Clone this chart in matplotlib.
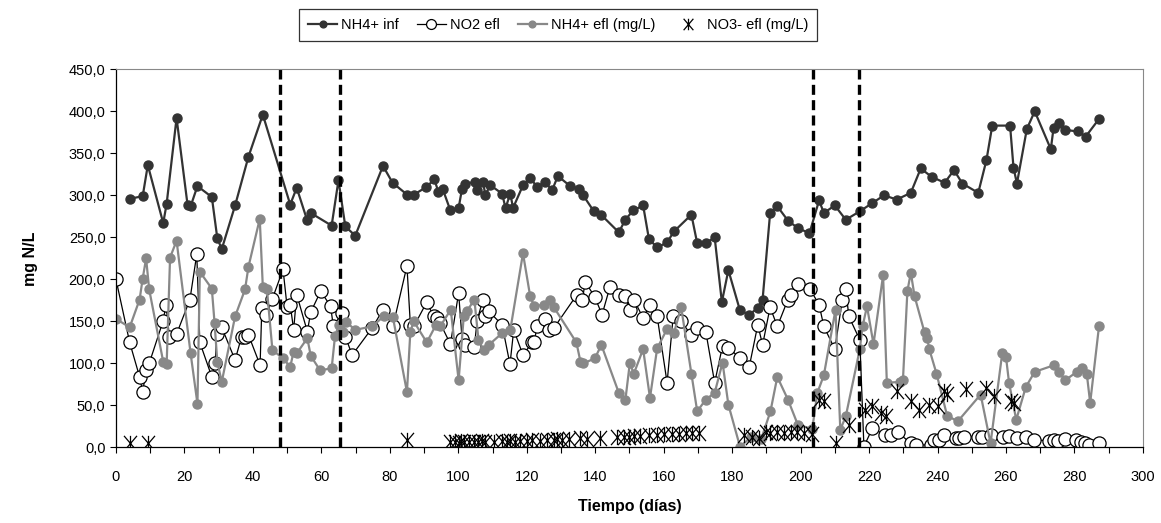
import matplotlib
matplotlib.use('Agg')
import matplotlib.pyplot as plt
from matplotlib.path import Path

plt.rcParams['font.family'] = ['Liberation Sans', 'DejaVu Sans']

# NH4+ afluente
nh4_inf_dia = [4.1, 7.8, 9.3, 13.8, 14.8, 17.7, 20.9, 21.8, 23.8, 28, 29.6, 30.9, 34.8, 38.7, 42.9,
               50.9, 52.8, 55.8, 56.9, 63, 65, 67, 69.9, 78, 80.8, 85, 87.1, 90.7, 93, 94.2, 95.4,
               97.7, 100.1, 101.1, 102.1, 105, 105.5, 107.2, 107.9, 109.4, 112.8, 113.8, 115.2, 116,
               118.9, 121, 123, 125.4, 127.4, 129.1, 132.7, 135.2, 136.5, 139.6, 141.7, 146.9, 148.8,
               151.1, 154, 155.7, 158.1, 161, 163, 168.1, 169.8, 172.3, 174.9, 177, 178.9, 182.3, 185,
               187.5, 188.9, 191.1, 193.2, 196.3, 199.2, 202.6, 205.4, 206.8, 210, 213.2, 217.3, 221,
               224.4, 228.1, 232.2, 235.1, 238.3, 242.1, 244.8, 247.3, 251.9, 254.3, 256, 261.2, 262.2,
               263.2, 266.1, 268.4, 273.1, 273.9, 275.4, 277.3, 280.9, 283.3, 287.2]
nh4_inf = [296, 299, 336, 267, 290, 392, 289, 287, 311, 298, 249, 236, 288, 346, 396,
           289, 309, 271, 279, 264, 318, 263, 252, 335, 315, 301, 301, 310, 319, 304, 308,
           282, 285, 308, 314, 316, 306, 316, 301, 312, 302, 285, 302, 285,
           312, 321, 310, 316, 306, 323, 311, 308, 300, 281, 277, 256, 271,
           282, 288, 248, 238, 244, 257, 277, 243, 243, 250, 173, 211, 163, 158,
           166, 176, 279, 287, 270, 261, 255, 294, 279, 288, 271, 281, 291,
           300, 295, 303, 332, 322, 315, 330, 314, 303, 342, 383, 383, 333,
           314, 379, 400, 355, 380, 386, 378, 376, 370, 391]

# NO2 efluente
no2_dia = [0, 4, 6.9, 7.8, 8.8, 9.7, 13.8, 14.6, 15.6, 17.7, 21.6, 23.6, 24.5, 28, 29, 29.4, 30.9,
           34.8, 36.7, 37.7, 38.7, 42.1, 42.6, 43.8, 45.7, 48.8, 50, 50.9, 51.9, 52.8, 55.9, 56.9,
           59.8, 62.7, 63.5, 66, 67, 69, 74.8, 78, 80.9, 85, 86, 87, 90.8, 92.8, 93.8, 94.7, 97.7,
           100.1, 101.1, 102.1, 104.7, 105.5, 107.2, 107.9, 108.9, 112.8, 115.1, 116.2, 118.9, 121.6,
           122.2, 123, 125.4, 126.4, 127.9, 134.7, 136.2, 137.1, 139.9, 142, 144.3, 146.9, 148.8,
           150.1, 151.3, 154, 156, 158.1, 161, 162.8, 165.1, 167.9, 169.8, 172.3, 174.9, 177.2, 178.9,
           182.3, 185, 187.5, 188.9, 191.1, 193.2, 196.3, 197.3, 199.2, 202.8, 205.4, 206.8, 210,
           212.2, 213.2, 214.1, 217.3, 218.5, 221, 224.6, 226.4, 228.4, 232.2, 233.7, 238.1, 239.1,
           240.5, 242, 245.3, 246.3, 247.8, 251.7, 253.1, 255.6, 259, 260.9, 263.3, 265.8, 268.2,
           272.6, 274.1, 275.1, 277.1, 280.4, 281.9, 283.1, 284.3, 287.2]
no2_efl = [200, 125, 84, 66, 92, 100, 151, 170, 132, 135, 176, 230, 125, 84, 101, 135, 143,
           104, 132, 132, 134, 98, 166, 158, 177, 212, 167, 170, 140, 182, 138, 161,
           186, 168, 144, 160, 132, 110, 142, 164, 144, 216, 146, 144, 173, 156, 154, 148, 123,
           184, 129, 122, 120, 151, 176, 156, 162, 146, 99, 140, 110, 125,
           126, 144, 153, 140, 142, 182, 175, 197, 179, 158, 191, 182, 180,
           164, 176, 154, 170, 156, 77, 157, 151, 134, 142, 138, 77, 121, 118,
           107, 96, 146, 122, 167, 144, 176, 182, 195, 188, 170, 144, 117,
           176, 188, 156, 128, 1, 23, 15, 15, 18, 5, 3, 3, 9,
           9, 15, 11, 11, 13, 13, 13, 15, 12, 14, 11, 13, 9,
           8, 9, 8, 10, 9, 7, 5, 3, 5]

# NH4+ efluente (mg/L)
nh4_efl_dia = [0, 4, 6.9, 7.8, 8.8, 9.7, 13.8, 14.8, 15.8, 17.7, 21.8, 23.8, 24.5, 28, 28.8, 29.6,
               30.9, 34.8, 37.7, 38.7, 42, 42.9, 44.1, 45.7, 48.8, 50.9, 51.9, 52.8, 55.9, 56.9, 59.6,
               63, 64, 65.2, 66.2, 67.3, 69.9, 74.8, 78.2, 80.9, 85, 86, 87, 90.8, 93.5, 94.7, 97.8,
               100.1, 101.6, 102.5, 104.7, 105.9, 107.4, 108.9, 112.8, 115.2, 118.9, 121, 122.2, 124.9,
               126.7, 127.9, 134.5, 135.7, 136.5, 139.9, 141.8, 146.9, 148.8, 150.1, 151.3, 154, 156,
               158.1, 161, 163, 165.1, 168.1, 169.8, 172.3, 174.9, 177.2, 178.9, 182.3, 185.5, 188.5,
               191.2, 193.2, 196.3, 199.2, 203.4, 204.9, 206.8, 210.2, 211.6, 213.2, 217.3, 218.1,
               219.4, 221.3, 224.1, 225.2, 228.9, 229.9, 231.2, 232.2, 233.3, 236.2, 237, 237.6, 239.7,
               242.8, 245.9, 252.6, 255.5, 258.9, 260, 260.9, 263, 265.8, 268.4, 274.1, 275.5, 277.3,
               280.7, 282.3, 283.6, 284.6, 287.2]
nh4_efl = [153, 143, 176, 201, 225, 188, 102, 99, 226, 246, 112, 52, 209, 189, 148, 102,
           78, 156, 188, 215, 272, 191, 188, 116, 106, 96, 114, 112, 130, 109, 92,
           94, 133, 146, 138, 149, 140, 144, 156, 155, 66, 138, 150, 125, 146, 144, 164,
           80, 156, 162, 176, 128, 116, 122, 136, 140, 231, 180, 168, 170,
           176, 167, 125, 102, 100, 106, 122, 65, 56, 100, 88, 117, 59,
           118, 141, 136, 167, 88, 43, 57, 65, 101, 51, 1, 12, 10,
           43, 84, 57, 27, 22, 65, 86, 164, 21, 37, 117, 144,
           168, 123, 205, 77, 78, 80, 186, 208, 180, 137, 130, 117, 88,
           38, 31, 63, 5, 112, 108, 77, 33, 72, 90, 98, 90, 80,
           90, 94, 88, 53, 145]

# NO3- efluente (mg/L)
no3_dia = [4, 9.3, 85, 97.7, 99.1, 100.1, 100.8, 101.6, 103, 104.5, 105.9, 106.9, 107.9, 110.3,
           112.8, 114.2, 115.2, 116.7, 118.1, 120.1, 121.5, 124, 125.9, 127.9, 128.9, 130.3, 132.3,
           135.7, 137.6, 141.5, 146.4, 148.3, 149.8, 151.3, 153.2, 155.6, 158.1, 160, 162.5, 164.4,
           166.4, 168.3, 170.3, 183.4, 185.9, 187.8, 189.8, 191.2, 193.2, 195.1, 197.1, 199, 201,
           203.4, 205.4, 206.8, 210.2, 214.1, 218.7, 220.9, 223.4, 224.9, 228.3, 232.2, 234.7,
           237.6, 240.1, 242, 242.9, 248.3, 254.2, 256.6, 261.5, 262.4]
no3_efl = [5, 5, 9, 6, 7, 5, 8, 6, 7, 6, 7, 8, 6, 7,
           8, 7, 8, 7, 8, 8, 9, 8, 9, 9, 10, 9, 10,
           11, 10, 11, 12, 12, 13, 14, 14, 15, 15, 16, 16, 16,
           17, 17, 17, 15, 13, 11, 19, 17, 18, 17, 19, 18, 17,
           16, 57, 55, 5, 27, 45, 49, 41, 37, 67, 55, 45,
           51, 49, 67, 64, 69, 71, 61, 55, 53]

# cambios de fase
fases = [48, 65.5, 203.5, 217]

estrella = Path([(-0.85, -1), (0.85, 1), (-0.85, 1), (0.85, -1), (0, -1), (0, 1)],
                [Path.MOVETO, Path.LINETO, Path.MOVETO, Path.LINETO, Path.MOVETO, Path.LINETO])

fig = plt.figure(figsize=(11.61, 5.23), dpi=100)
ax = fig.add_axes([0.0999, 0.1444, 0.8845, 0.7231])

ax.plot(nh4_inf_dia, nh4_inf, '-o', color='#333333', lw=1.6, ms=6.5, label='NH4+ inf')
ax.plot(no2_dia, no2_efl, '-o', color='black', mfc='white', mec='black', mew=0.9, lw=0.9, ms=9.5,
        label='NO2 efl')
ax.plot(nh4_efl_dia, nh4_efl, '-o', color='#888888', lw=1.6, ms=6.5, label='NH4+ efl (mg/L)')
ax.plot(no3_dia, no3_efl, linestyle='none', marker=estrella, color='black', mew=0.9, ms=11,
        label='NO3- efl (mg/L)')

for f in fases:
    ax.axvline(f, color='black', lw=2.4, linestyle=(0, (3, 1.6)))

ax.set_xlim(0, 300)
ax.set_ylim(0, 450)
ax.set_xticks(range(0, 301, 20))
ax.set_xticks(range(0, 301, 10), minor=True)
ax.set_yticks(range(0, 451, 50))
ax.set_yticklabels(['%d,0' % v for v in range(0, 451, 50)])
ax.tick_params(axis='both', labelsize=10.5, direction='out', length=4, width=0.8, color='black')
ax.tick_params(axis='x', which='minor', direction='out', length=4, width=0.8)
ax.tick_params(axis='x', pad=12)

for s in ['top', 'right']:
    ax.spines[s].set_color('#888888')
for s in ['left', 'bottom']:
    ax.spines[s].set_color('black')
    ax.spines[s].set_linewidth(0.9)

ax.set_xlabel('Tiempo (días)', fontsize=11.5, fontweight='bold', labelpad=11)
ax.set_ylabel('mg N/L', fontsize=11.5, fontweight='bold', labelpad=22)

leg = fig.legend(loc='center', bbox_to_anchor=(0.4806, 0.952), ncol=4, fontsize=10.5,
                 frameon=True, fancybox=False, edgecolor='black', handlelength=2.0,
                 handletextpad=0.3, columnspacing=1.2, markerscale=0.75, borderpad=0.6)
leg.get_frame().set_linewidth(0.9)

fig.savefig('out.png', dpi=100)
